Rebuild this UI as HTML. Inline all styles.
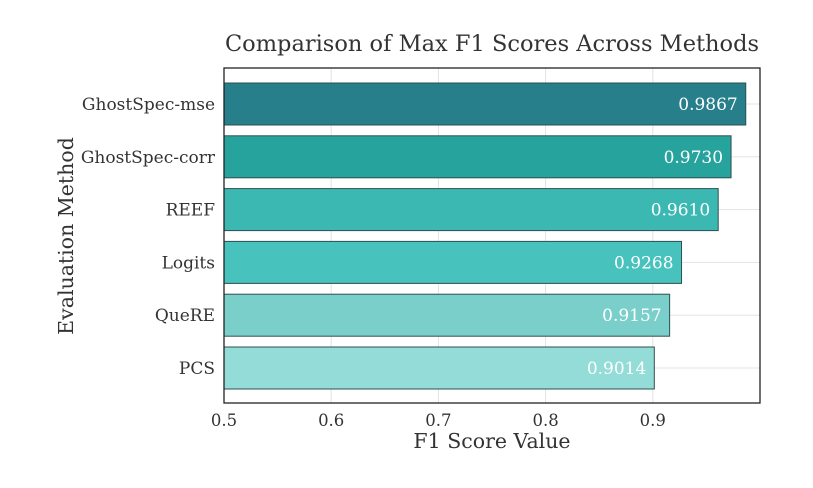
<!DOCTYPE html>
<html><head><meta charset="utf-8"><style>
body{margin:0;background:#fff}
svg text{font-family:"DejaVu Serif","Liberation Serif",serif;fill:#333}
</style></head><body>
<svg width="813" height="483" xmlns="http://www.w3.org/2000/svg" id="c"></svg>
<script>
const categories=["GhostSpec-mse","GhostSpec-corr","REEF","Logits","QueRE","PCS"];
const values=[0.9867,0.9730,0.9610,0.9268,0.9157,0.9014];
const colors=["#267f8a","#27a39d","#3cb8b3","#47c2bd","#7acfcb","#93dcd8"];
const ticks=[0.5,0.6,0.7,0.8,0.9];
const L=224,R=760,T=68,B=403,xmin=0.5,xmax=1.0;
const x=v=>L+(v-xmin)/(xmax-xmin)*(R-L);
const y=i=>104+i*52.8;
const svg=document.getElementById('c');const NS="http://www.w3.org/2000/svg";
function el(t,a,txt){const e=document.createElementNS(NS,t);for(const k in a)e.setAttribute(k,a[k]);if(txt!=null)e.textContent=txt;svg.appendChild(e);return e;}
ticks.concat([1.0]).forEach(t=>{const g=el('line',{x1:x(t),x2:x(t),y1:T,y2:B,stroke:'#e3e3e3'});

});
categories.forEach((c,i)=>{const g=el('line',{x1:L,x2:R,y1:y(i),y2:y(i),stroke:'#e3e3e3'});

});
categories.forEach((c,i)=>{
const b=el('rect',{x:L,y:y(i)-21,width:x(values[i])-L,height:42,fill:colors[i],stroke:'#2f4f4f','stroke-width':1});


const v=el('text',{x:x(values[i])-8,y:y(i)+6,'text-anchor':'end','font-size':17,style:'fill:#fff'},values[i].toFixed(4));


const lb=el('text',{x:215,y:y(i)+6,'text-anchor':'end','font-size':17,textLength:c.length>4?undefined:undefined},c);
lb.removeAttribute('textLength');


});
const f=el('rect',{x:L,y:T,width:R-L,height:B-T,fill:'none',stroke:'#222','stroke-width':1.3});


ticks.forEach(t=>{const tl=el('text',{x:x(t),y:426,'text-anchor':'middle','font-size':16.5},t.toFixed(1));

});
const xt=el('text',{x:492,y:448,'text-anchor':'middle','font-size':20.5},'F1 Score Value');


const yt=el('text',{x:0,y:0,'text-anchor':'middle','font-size':20.5,transform:'translate(73,236) rotate(-90)'},'Evaluation Method');


const tt=el('text',{x:492,y:51,'text-anchor':'middle','font-size':22.5},'Comparison of Max F1 Scores Across Methods');


</script>
</body></html>
